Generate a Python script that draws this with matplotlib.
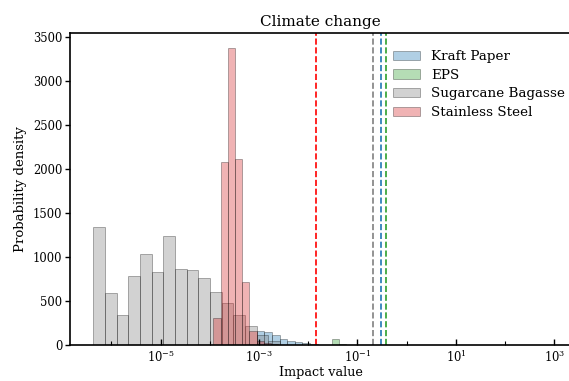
"""Climate change impact histograms (log x) with mean lines, recreated."""
import numpy as np
import matplotlib
matplotlib.use("Agg")
import matplotlib.pyplot as plt

plt.rcParams["font.family"] = ["DejaVu Serif"]

LABELS = ["Kraft Paper", "EPS", "Sugarcane Bagasse", "Stainless Steel"]
COLORS = ["tab:blue", "tab:green", "grey", "tab:red"]
LINE_COLORS = ["tab:blue", "tab:green", "grey", "red"]

# log10 bin ranges (first edge, last edge) and densities per bin
kraft_log_range = (-3.049, -1.809)
kraft_density = [163, 151, 114, 64, 49, 30, 20, 12]

eps_log_range = (-1.672, -1.228)
eps_density = [4, 68, 6]

sugar_log_range = (-6.370, -2.578)
sugar_density = [1344, 587, 337, 784, 1030, 826, 1239, 864, 852, 758,
                 606, 473, 341, 219, 110, 40]

steel_log_range = (-3.931, -2.608)
steel_density = [311, 2083, 3371, 2114, 712, 159, 40, 18, 8]

# mean impact values (dashed lines)
means = [0.306, 0.386, 0.207, 0.0145]


def edges(rng, n):
    return np.logspace(rng[0], rng[1], n + 1)


fig = plt.figure(figsize=(5.69, 3.81), dpi=100)
ax = fig.add_axes([70 / 569, 1 - 345 / 381, 501 / 569, (345 - 33.3) / 381])

series = [(kraft_log_range, kraft_density), (eps_log_range, eps_density),
          (sugar_log_range, sugar_density), (steel_log_range, steel_density)]
for (rng, dens), lab, col in zip(series, LABELS, COLORS):
    e = edges(rng, len(dens))
    ax.hist(e[:-1], bins=e, weights=dens, color=col, alpha=0.35,
            edgecolor="black", linewidth=0.6, label=lab)

for m, col in zip(means, LINE_COLORS):
    ax.axvline(m, color=col, linestyle="--", linewidth=1.2)

ax.set_xscale("log")
ax.set_xlim(10 ** -6.843, 10 ** 3.34)
ax.set_ylim(0, 3540)
ax.set_xticks([1e-5, 1e-3, 1e-1, 1e1, 1e3])
ax.set_xticks([1e-6, 1e-4, 1e-2, 1e0, 1e2], minor=True)
ax.set_xticklabels([], minor=True)
ax.tick_params(axis="x", which="major", direction="in", length=4, width=1,
               labelsize=8.3, pad=3)
ax.tick_params(axis="x", which="minor", direction="in", length=3, width=0.8)
ax.tick_params(axis="y", direction="out", length=3.5, width=1, labelsize=8.3, pad=2)
ax.set_yticks(np.arange(0, 3501, 500))
for s in ax.spines.values():
    s.set_linewidth(1.2)

ax.set_title("Climate change", fontsize=11, pad=5)
ax.set_xlabel("Impact value", fontsize=9.2, labelpad=1)
ax.set_ylabel("Probability density", fontsize=9.5, labelpad=4)

ax.legend(loc="upper left", bbox_to_anchor=(381 / 569, 1 - 38 / 381),
          bbox_transform=fig.transFigure, frameon=False, fontsize=9.7,
          handlelength=2.0, handletextpad=0.8, labelspacing=0.42)

fig.savefig("out.png", dpi=100)
